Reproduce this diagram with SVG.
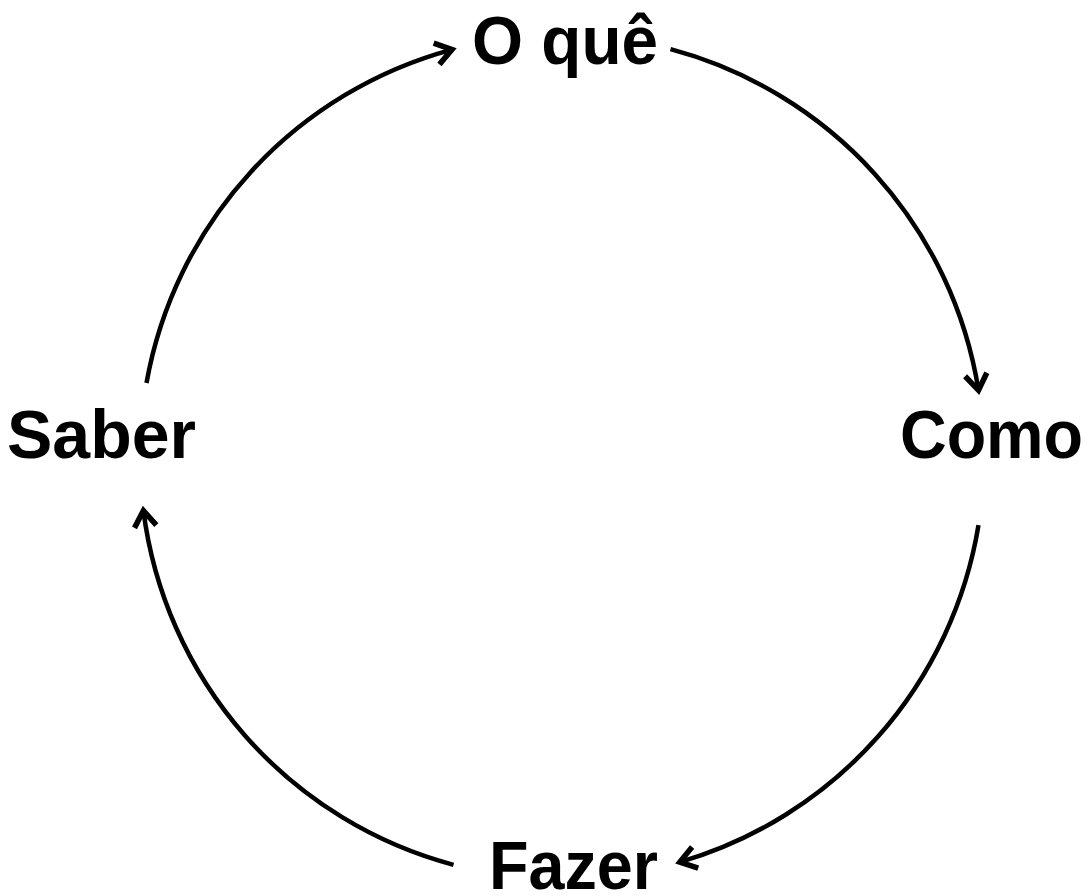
<svg xmlns="http://www.w3.org/2000/svg" width="1089" height="896" viewBox="0 0 1089 896">
<defs>
<style>
.lbl{font-family:"Liberation Sans",Arial,sans-serif;font-weight:bold;font-size:69px;fill:#000}
.arc{fill:none;stroke:#000;stroke-width:4.5}
</style>
<marker id="arr" markerUnits="userSpaceOnUse" markerWidth="44" markerHeight="44" viewBox="-22 -22 44 44" refX="0" refY="0" orient="auto">
<path d="M-16,-11 L0,0 L-16,11" fill="none" stroke="#000" stroke-width="5.5" stroke-linejoin="miter" stroke-miterlimit="10"/>
</marker>
</defs>
<rect width="1089" height="896" fill="#fff"/>
<g id="connectors">
<path class="arc" marker-end="url(#arr)" d="M146.5,383 A422,422 0 0 1 452,49.6"/>
<path class="arc" marker-end="url(#arr)" d="M670.5,49.2 A422,422 0 0 1 978.5,390.3"/>
<path class="arc" marker-end="url(#arr)" d="M978.5,525.2 A422,422 0 0 1 679.8,862.1"/>
<path class="arc" marker-end="url(#arr)" d="M453.5,864.8 A422,422 0 0 1 143.4,510.6"/>
</g>
<g id="node-oque"><text class="lbl" x="472" y="64" textLength="186" lengthAdjust="spacingAndGlyphs">O quê</text></g>
<g id="node-como"><text class="lbl" x="900" y="458" textLength="183" lengthAdjust="spacingAndGlyphs">Como</text></g>
<g id="node-fazer"><text class="lbl" x="489" y="889" textLength="169" lengthAdjust="spacingAndGlyphs">Fazer</text></g>
<g id="node-saber"><text class="lbl" x="7" y="458" textLength="189" lengthAdjust="spacingAndGlyphs">Saber</text></g>
</svg>
